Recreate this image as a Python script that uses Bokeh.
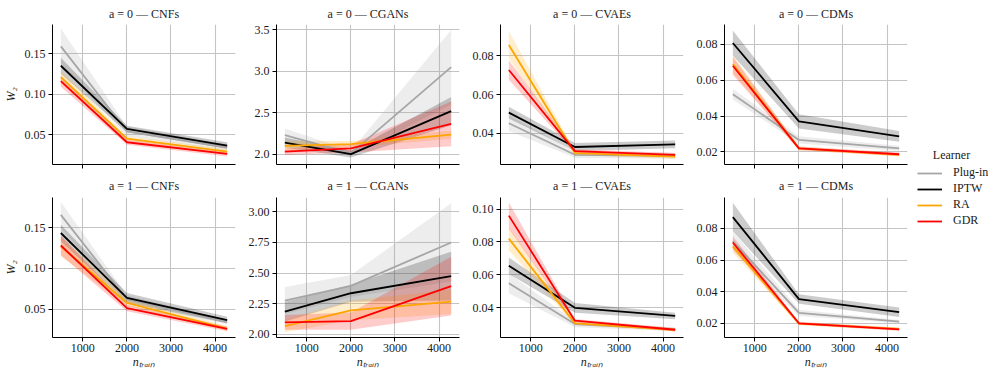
from bokeh.plotting import figure
from bokeh.models import (Range1d, FixedTicker, Legend, LegendItem, ColumnDataSource, Title, Label)
from bokeh.layouts import row, column
from bokeh.embed import file_html
from bokeh.resources import INLINE

# ---------------- data ----------------
N_TRAIN = [500, 2000, 4275]
LEARNERS = ["Plug-in", "IPTW", "RA", "GDR"]
COLORS = {"Plug-in": "#a6a6a6", "IPTW": "#000000", "RA": "#ffa500", "GDR": "#ff0000"}
MODELS = ["CNFs", "CGANs", "CVAEs", "CDMs"]
X_TICKS = [1000, 2000, 3000, 4000]
X_TICK_LABELS = ["1000", "2000", "3000", "4000"]

# mean W2 per learner, a = 0
CNF_A0 = {"Plug-in": [0.159, 0.054, 0.034], "IPTW": [0.135, 0.057, 0.0364],
          "RA": [0.121, 0.045, 0.029], "GDR": [0.116, 0.0405, 0.026]}
CGAN_A0 = {"Plug-in": [2.23, 2.01, 3.05], "IPTW": [2.14, 2.00, 2.52],
           "RA": [2.10, 2.12, 2.235], "GDR": [2.03, 2.07, 2.365]}
CVAE_A0 = {"Plug-in": [0.0452, 0.029, 0.0285], "IPTW": [0.0507, 0.033, 0.0343],
           "RA": [0.0855, 0.0298, 0.028], "GDR": [0.0726, 0.0309, 0.0289]}
CDM_A0 = {"Plug-in": [0.0522, 0.0267, 0.022], "IPTW": [0.0807, 0.037, 0.0287],
          "RA": [0.069, 0.022, 0.0184], "GDR": [0.068, 0.022, 0.0187]}
# mean W2 per learner, a = 1
CNF_A1 = {"Plug-in": [0.1656, 0.062, 0.034], "IPTW": [0.1434, 0.0636, 0.0364],
          "RA": [0.127, 0.0574, 0.026], "GDR": [0.128, 0.0512, 0.0256]}
CGAN_A1 = {"Plug-in": [2.275, 2.395, 2.75], "IPTW": [2.184, 2.335, 2.475],
           "RA": [2.066, 2.195, 2.266], "GDR": [2.096, 2.107, 2.393]}
CVAE_A1 = {"Plug-in": [0.0549, 0.0302, 0.027], "IPTW": [0.0655, 0.040, 0.0351],
           "RA": [0.082, 0.0306, 0.0267], "GDR": [0.096, 0.0322, 0.0267]}
CDM_A1 = {"Plug-in": [0.072, 0.0266, 0.021], "IPTW": [0.0872, 0.0353, 0.027],
          "RA": [0.0687, 0.0198, 0.0164], "GDR": [0.0711, 0.020, 0.0162]}

# half-width of the shaded band per learner
CNF_A0_ERR = {"Plug-in": [0.022, 0.006, 0.004], "IPTW": [0.010, 0.004, 0.004],
              "RA": [0.008, 0.003, 0.003], "GDR": [0.007, 0.003, 0.003]}
CGAN_A0_ERR = {"Plug-in": [0.08, 0.03, 0.45], "IPTW": [0.06, 0.04, 0.17],
               "RA": [0.06, 0.04, 0.05], "GDR": [0.04, 0.05, 0.27]}
CVAE_A0_ERR = {"Plug-in": [0.004, 0.0015, 0.0015], "IPTW": [0.003, 0.002, 0.002],
               "RA": [0.007, 0.001, 0.001], "GDR": [0.005, 0.001, 0.001]}
CDM_A0_ERR = {"Plug-in": [0.003, 0.002, 0.0015], "IPTW": [0.007, 0.004, 0.003],
              "RA": [0.005, 0.001, 0.001], "GDR": [0.005, 0.001, 0.001]}
CNF_A1_ERR = {"Plug-in": [0.016, 0.005, 0.003], "IPTW": [0.010, 0.006, 0.004],
              "RA": [0.012, 0.004, 0.003], "GDR": [0.012, 0.004, 0.003]}
CGAN_A1_ERR = {"Plug-in": [0.11, 0.09, 0.32], "IPTW": [0.08, 0.07, 0.20],
               "RA": [0.05, 0.08, 0.10], "GDR": [0.06, 0.07, 0.24]}
CVAE_A1_ERR = {"Plug-in": [0.006, 0.002, 0.001], "IPTW": [0.005, 0.003, 0.002],
               "RA": [0.007, 0.001, 0.001], "GDR": [0.008, 0.001, 0.001]}
CDM_A1_ERR = {"Plug-in": [0.006, 0.002, 0.001], "IPTW": [0.009, 0.003, 0.003],
              "RA": [0.004, 0.001, 0.001], "GDR": [0.004, 0.001, 0.001]}

# y ticks and their labels
YT_CNF_A0 = [0.05, 0.10, 0.15]; YL_CNF_A0 = ["0.05", "0.10", "0.15"]
YT_CGAN_A0 = [2.0, 2.5, 3.0, 3.5]; YL_CGAN_A0 = ["2.0", "2.5", "3.0", "3.5"]
YT_CVAE_A0 = [0.04, 0.06, 0.08]; YL_CVAE_A0 = ["0.04", "0.06", "0.08"]
YT_CDM_A0 = [0.02, 0.04, 0.06, 0.08]; YL_CDM_A0 = ["0.02", "0.04", "0.06", "0.08"]
YT_CNF_A1 = [0.05, 0.10, 0.15]; YL_CNF_A1 = ["0.05", "0.10", "0.15"]
YT_CGAN_A1 = [2.0, 2.25, 2.5, 2.75, 3.0]; YL_CGAN_A1 = ["2.00", "2.25", "2.50", "2.75", "3.00"]
YT_CVAE_A1 = [0.04, 0.06, 0.08, 0.10]; YL_CVAE_A1 = ["0.04", "0.06", "0.08", "0.10"]
YT_CDM_A1 = [0.02, 0.04, 0.06, 0.08]; YL_CDM_A1 = ["0.02", "0.04", "0.06", "0.08"]

# y ranges (axis limits)
YR_A0 = [(0.013, 0.186), (1.875, 3.565), (0.024, 0.096), (0.013, 0.091)]
YR_A1 = [(0.015, 0.187), (1.973, 3.118), (0.022, 0.107), (0.011, 0.0996)]

PANELS_A0 = [(CNF_A0, CNF_A0_ERR, YT_CNF_A0, YL_CNF_A0),
             (CGAN_A0, CGAN_A0_ERR, YT_CGAN_A0, YL_CGAN_A0),
             (CVAE_A0, CVAE_A0_ERR, YT_CVAE_A0, YL_CVAE_A0),
             (CDM_A0, CDM_A0_ERR, YT_CDM_A0, YL_CDM_A0)]
PANELS_A1 = [(CNF_A1, CNF_A1_ERR, YT_CNF_A1, YL_CNF_A1),
             (CGAN_A1, CGAN_A1_ERR, YT_CGAN_A1, YL_CGAN_A1),
             (CVAE_A1, CVAE_A1_ERR, YT_CVAE_A1, YL_CVAE_A1),
             (CDM_A1, CDM_A1_ERR, YT_CDM_A1, YL_CDM_A1)]

FONT = "Liberation Serif"
TXT = "#1a1a1a"
X_MIN, X_MAX = 311, 4464


def make_panel(a, j, panel, yr, bottom):
    means, errs, yt, yl = panel
    left = 44 if j == 0 else 40
    p = figure(frame_width=183, frame_height=140, output_backend="svg",
               toolbar_location=None, x_range=Range1d(X_MIN, X_MAX),
               y_range=Range1d(*yr), min_border_left=left, min_border_right=1,
               min_border_top=5, min_border_bottom=5 if bottom else 7)
    p.title = Title(text=f"a = {a} \u2014 {MODELS[j]}", align="center",
                    text_font=FONT, text_font_size="12px", text_font_style="normal",
                    text_color=TXT, standoff=10 if bottom else 8)
    p.outline_line_color = None
    p.xaxis.ticker = FixedTicker(ticks=X_TICKS)
    p.yaxis.ticker = FixedTicker(ticks=yt)
    p.yaxis.major_label_overrides = {t: l for t, l in zip(yt, yl)}
    p.xaxis.major_label_overrides = {t: l for t, l in zip(X_TICKS, X_TICK_LABELS)}
    for ax in (p.xaxis[0], p.yaxis[0]):
        ax.axis_line_color = "black"
        ax.axis_line_width = 1
        ax.major_tick_line_color = "black"
        ax.major_tick_out = 4
        ax.major_tick_in = 0
        ax.minor_tick_line_color = None
        ax.major_label_text_font = FONT
        ax.major_label_text_font_size = "12px"
        ax.major_label_text_color = TXT
        ax.major_label_standoff = 3
    if not bottom:
        # shared x axis: tick marks only
        p.xaxis.major_label_overrides = {t: "" for t in X_TICKS}
        p.xaxis.major_label_text_font_size = "9px"
        p.xaxis.major_label_standoff = 0
    else:
        p.xaxis.major_label_standoff = 2
        p.xaxis.axis_label = "n\u209c\u1d63\u2090\u1d62\u2099"
        p.xaxis.axis_label_text_font = FONT
        p.xaxis.axis_label_text_font_style = "italic"
        p.xaxis.axis_label_text_font_size = "12px"
        p.xaxis.axis_label_text_color = TXT
        p.xaxis.axis_label_standoff = 0
    p.grid.grid_line_color = "#c4c4c4"
    p.grid.grid_line_width = 1.1
    if j == 0:
        p.yaxis.axis_label = "W\u2082"
        p.yaxis.axis_label_text_font = FONT
        p.yaxis.axis_label_text_font_style = "italic"
        p.yaxis.axis_label_text_font_size = "12px"
        p.yaxis.axis_label_text_color = TXT
        p.yaxis.axis_label_standoff = 4
    for name in LEARNERS:
        m = means[name]
        e = errs[name]
        src = ColumnDataSource(dict(x=N_TRAIN, y=m,
                                    lo=[v - d for v, d in zip(m, e)],
                                    hi=[v + d for v, d in zip(m, e)]))
        p.varea(x="x", y1="lo", y2="hi", source=src, fill_color=COLORS[name], fill_alpha=0.2)
    for name in LEARNERS:
        src = ColumnDataSource(dict(x=N_TRAIN, y=means[name]))
        p.line(x="x", y="y", source=src, line_color=COLORS[name], line_width=1.8)
    return p


top = [make_panel(0, j, PANELS_A0[j], YR_A0[j], False) for j in range(4)]
bot = [make_panel(1, j, PANELS_A1[j], YR_A1[j], True) for j in range(4)]

# legend panel (dummy renderers lie outside its visible ranges)
H = 360
lg = figure(width=80, height=H, output_backend="svg", toolbar_location=None,
            x_range=Range1d(0, 80), y_range=Range1d(0, H), min_border=0)
lg.axis.visible = False
lg.grid.visible = False
lg.outline_line_color = None
items = []
for name in LEARNERS:
    r = lg.line(x=N_TRAIN, y=CNF_A0[name], line_color=COLORS[name], line_width=1.8)
    items.append(LegendItem(label=name, renderers=[r]))
leg = Legend(items=items, location=(9, 132), padding=0, margin=0, spacing=1,
             glyph_width=25, glyph_height=14, label_height=14, label_standoff=11,
             label_text_font=FONT, label_text_font_size="12px", label_text_color=TXT,
             border_line_color=None, background_fill_alpha=0)
lg.add_layout(leg)
lg.add_layout(Label(x=43, y=H - 154, x_units="screen", y_units="screen", text="Learner",
                    text_align="center", text_baseline="middle", text_font=FONT,
                    text_font_size="12px", text_color=TXT))

layout = row(column(row(*top), row(*bot)), lg)
open("out.html", "w").write(file_html(layout, INLINE))
